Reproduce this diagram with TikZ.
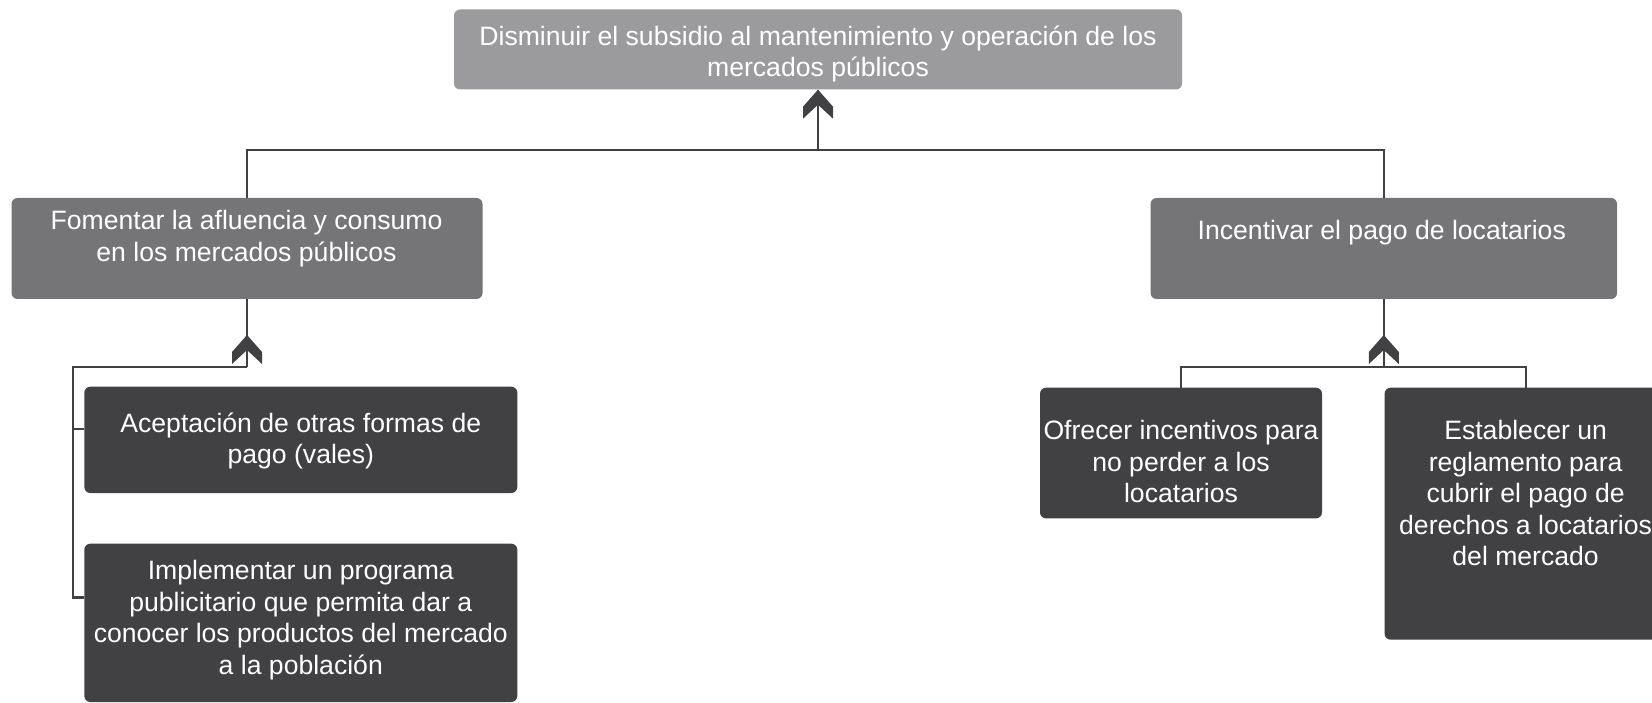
\documentclass[tikz,border=0pt]{standalone}
\usepackage{fontspec}
\setmainfont{Liberation Sans}
\definecolor{boxA}{RGB}{155,155,157}
\definecolor{boxB}{RGB}{117,117,120}
\definecolor{boxC}{RGB}{65,64,66}
\definecolor{lineC}{RGB}{65,64,66}
\tikzset{
  box/.style={rounded corners=6pt, inner sep=0pt, draw=none},
  lvlA/.style={box, fill=boxA},
  lvlB/.style={box, fill=boxB},
  lvlC/.style={box, fill=boxC},
  txt/.style={text=white, align=center, inner sep=0pt, font=\fontsize{26.6}{31.6}\selectfont},
  conn/.style={draw=lineC, line width=2.2pt},
}
\newcommand{\chev}[1]{\fill[lineC] (#1) -- ++(-15,17) -- ++(0,12) -- ++(15,-14) -- ++(15,14) -- ++(0,-12) -- cycle;}
\begin{document}
\begin{tikzpicture}[x=1pt,y=-1pt]
\useasboundingbox (0,0) rectangle (1652,703);
% boxes
\node[lvlA, minimum width=728pt, minimum height=80pt] (top) at (818,49.5) {};
\node[lvlB, minimum width=471pt, minimum height=101pt] (fom) at (247,248.5) {};
\node[lvlB, minimum width=466.5pt, minimum height=101pt] (inc) at (1383.8,248.5) {};
\node[lvlC, minimum width=433pt, minimum height=106.3pt] (acp) at (300.8,439.85) {};
\node[lvlC, minimum width=433pt, minimum height=158.3pt] (imp) at (300.8,622.85) {};
\node[lvlC, minimum width=282pt, minimum height=130.7pt] (ofr) at (1181,453.05) {};
\node[lvlC, minimum width=282pt, minimum height=252pt] (est) at (1525.6,513.7) {};
% texts
\node[txt] (topT) at (818,53.8) {Disminuir el subsidio al mantenimiento y operación de los\\mercados públicos};
\node[txt] (fomT) at (246.5,238.6) {Fomentar la afluencia y consumo\\en los mercados públicos};
\node[txt] (incT) at (1381.8,232.9) {Incentivar el pago de locatarios};
\node[txt] (acpT) at (300.8,440.9) {Aceptación de otras formas de\\pago (vales)};
\node[txt] (impT) at (300.8,620.2) {Implementar un programa\\publicitario que permita dar a\\conocer los productos del mercado\\a la población};
\node[txt] (ofrT) at (1181,461.5) {Ofrecer incentivos para\\no perder a los\\locatarios};
\node[txt] (estT) at (1525.6,493.2) {Establecer un\\reglamento para\\cubrir el pago de\\derechos a locatarios\\del mercado};
% junction coordinates
\coordinate (jTop) at (top.south |- 0,150);
\coordinate (jL) at (fom.south |- 0,367);
\coordinate (jR) at (inc.south |- 0,367);
\coordinate (bx) at (73,367);
% top level connectors
\draw[conn] (fom.north) |- (jTop) -| (inc.north);
\draw[conn] (jTop) -- (top.south);
\chev{top.south}
% left group
\draw[conn] (jL) -- (fom.south);
\chev{fom.south |- 0,335}
\draw[conn] (jL) -- (bx) |- (imp.west |- 0,597.5);
\draw[conn] (bx |- 0,428.8) -- (acp.west |- 0,428.8);
% right group
\draw[conn] (jR) -- (inc.south);
\chev{inc.south |- 0,335}
\draw[conn] (ofr.north) |- (jR) -| (est.north);
\end{tikzpicture}
\end{document}
